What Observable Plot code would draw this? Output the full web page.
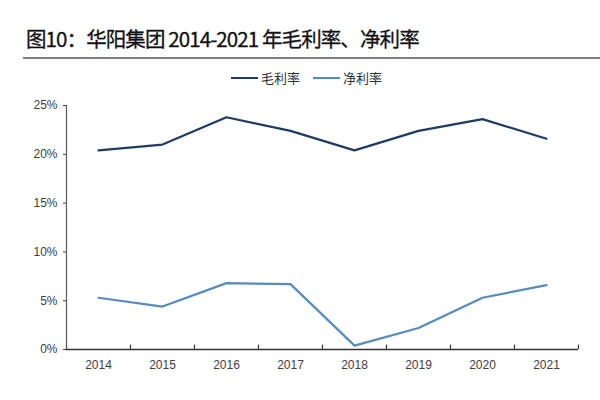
<!DOCTYPE html>
<html>
<head>
<meta charset="utf-8">
<script src="https://cdn.jsdelivr.net/npm/d3@7"></script>
<script src="https://cdn.jsdelivr.net/npm/@observablehq/plot@0.6"></script>
<style>
  html, body { margin: 0; padding: 0; background: #fff; }
  #wrap { position: relative; width: 600px; height: 400px; overflow: hidden; font-family: "Noto Sans CJK SC", "Noto Sans", sans-serif; }
  #title { position: absolute; left: 26px; top: 23px; font-size: 20.5px; font-weight: 400; color: #111; white-space: nowrap; letter-spacing: -0.9px; -webkit-text-stroke: 0.3px #111; }
  #rule { position: absolute; left: 23px; top: 57px; width: 577px; height: 2px; background: #7f7f7f; }
  #legend { position: absolute; left: 231px; top: 68px; font-size: 13px; color: #333; display: flex; align-items: center; white-space: nowrap; }
  .sw { display: inline-block; width: 27px; height: 2px; margin-right: 3px; }
  .item { display: flex; align-items: center; margin-right: 13px; }
  #chart { position: absolute; left: 0; top: 90px; }
</style>
</head>
<body>
<div id="wrap">
  <div id="title">图10：华阳集团 2014-2021 年毛利率、净利率</div>
  <div id="rule"></div>
  <div id="legend"></div>
  <div id="chart"></div>
</div>
<script>
const years = [2014, 2015, 2016, 2017, 2018, 2019, 2020, 2021];
const grossMargin = [20.4, 21.0, 23.8, 22.4, 20.4, 22.4, 23.6, 21.6];
const netMargin = [5.3, 4.4, 6.8, 6.7, 0.4, 2.2, 5.3, 6.6];
const seriesNames = ["毛利率", "净利率"];
const seriesColors = ["#1f3a64", "#568bc0"];
const yTicks = [0, 5, 10, 15, 20, 25];

const data = [];
years.forEach((y, i) => {
  data.push({year: y, value: grossMargin[i], series: seriesNames[0]});
  data.push({year: y, value: netMargin[i], series: seriesNames[1]});
});
const bounds = [years[0] - 0.5, ...years.map(y => y + 0.5)];

// legend
const leg = document.getElementById("legend");
seriesNames.forEach((n, i) => {
  const it = document.createElement("span");
  it.className = "item";
  const sw = document.createElement("span");
  sw.className = "sw";
  sw.style.background = seriesColors[i];
  it.appendChild(sw);
  it.appendChild(document.createTextNode(n));
  leg.appendChild(it);
});

const chart = Plot.plot({
  width: 600,
  height: 310,
  marginTop: 15,
  marginBottom: 51,
  marginLeft: 66,
  marginRight: 22,
  style: {fontFamily: "'Liberation Sans', Arial, sans-serif", fontSize: "12px", color: "#404040", background: "white"},
  x: {domain: [bounds[0], bounds[bounds.length - 1]]},
  y: {domain: [0, 25]},
  color: {domain: seriesNames, range: seriesColors},
  marks: [
    Plot.axisY({ticks: yTicks, tickFormat: d => d + "%", tickSize: 3, tickPadding: 6, label: null, stroke: "#404040"}),
    Plot.axisX({ticks: years, tickFormat: d => String(d), tickSize: 0, tickPadding: 11, label: null}),
    Plot.ruleX(bounds, {y1: 0, y2: 0.45, stroke: "#333", strokeWidth: 1.2}),
    Plot.ruleX([bounds[0]], {y1: 0, y2: 25, stroke: "#595959", strokeWidth: 1.2}),
    Plot.ruleY([0], {x1: bounds[0], x2: bounds[bounds.length - 1], stroke: "#333", strokeWidth: 1.5}),
    Plot.line(data, {x: "year", y: "value", z: "series", stroke: "series", strokeWidth: 2.2, curve: "linear"})
  ]
});
document.getElementById("chart").appendChild(chart);
</script>
</body>
</html>
